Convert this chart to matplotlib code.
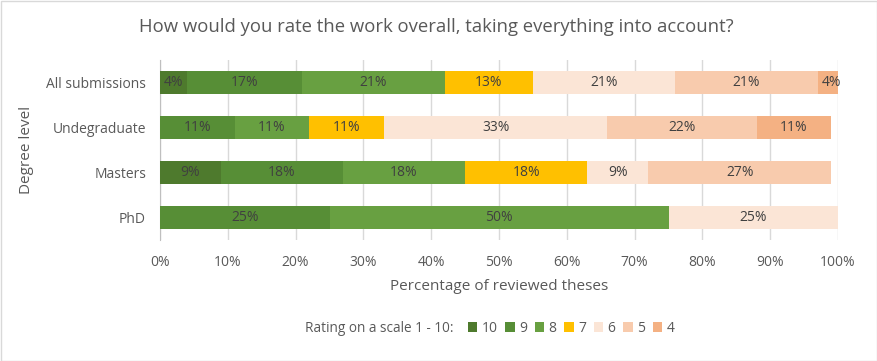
import matplotlib
matplotlib.use("Agg")
import matplotlib.pyplot as plt
from matplotlib.patches import Rectangle, Patch

plt.rcParams['font.family'] = ['Open Sans', 'DejaVu Sans']

categories = ["All submissions", "Undegraduate", "Masters", "PhD"]
ratings = ["10", "9", "8", "7", "6", "5", "4"]
values = {
    "10": [4, 0, 9, 0],
    "9": [17, 11, 18, 25],
    "8": [21, 11, 18, 50],
    "7": [13, 11, 18, 0],
    "6": [21, 33, 9, 25],
    "5": [21, 22, 27, 0],
    "4": [4, 11, 0, 0],
}
colors = {
    "10": "#4E7A2D",
    "9": "#578E36",
    "8": "#68A041",
    "7": "#FFC000",
    "6": "#FBE5D6",
    "5": "#F8CBAD",
    "4": "#F4B183",
}

fig = plt.figure(figsize=(8.77, 3.61), dpi=100)
ax = fig.add_axes([160/877, 1-240/361, (838-160)/877, (240-60)/361])

ypos = list(range(len(categories)))
left = [0.0]*len(categories)
for r in ratings:
    vals = values[r]
    ax.barh(ypos, vals, left=left, height=0.53, color=colors[r], zorder=3)
    for i, v in enumerate(vals):
        if v > 0:
            cx = left[i] + v/2
            if cx < 100:
                ax.text(cx, ypos[i], f"{v}%", ha='center', va='center',
                        fontsize=10, color='#404040', zorder=4, clip_on=False)
    left = [l+v for l, v in zip(left, vals)]

ax.set_xlim(0, 100)
ax.set_ylim(len(categories)-0.5, -0.5)
ax.set_xticks(range(0, 101, 10))
ax.set_xticklabels([f"{t}%" for t in range(0, 101, 10)], fontsize=10, color='#595959')
ax.set_yticks(ypos)
ax.set_yticklabels(categories, fontsize=10, color='#595959')
ax.tick_params(length=0, pad=10)
ax.tick_params(axis='x', pad=11)
ax.grid(axis='x', color='#D9D9D9', linewidth=1, zorder=0)
for s in ['top', 'right', 'bottom']:
    ax.spines[s].set_visible(False)
ax.spines['left'].set_color('#BFBFBF')

ax.set_xlabel("Percentage of reviewed theses", fontsize=11, color='#595959', labelpad=6)
fig.text(27/877, 1-150/361, "Degree level", rotation=90, ha='center', va='center',
         fontsize=11, color='#595959')
fig.text(436/877, 1-27/361, "How would you rate the work overall, taking everything into account?",
         ha='center', va='center', fontsize=13.3, color='#595959')

fig.text(305/877, 1-328/361, "Rating on a scale 1 - 10:", ha='left', va='center',
         fontsize=9.8, color='#595959')
handles = [Patch(facecolor=colors[r], label=r) for r in ratings]
leg = fig.legend(handles=handles, loc='center left', bbox_to_anchor=(462/877, 1-328/361),
                 ncol=7, frameon=False, fontsize=10, handlelength=0.7, handleheight=0.7,
                 handletextpad=0.3, columnspacing=0.55, borderpad=0, borderaxespad=0.4)
for t in leg.get_texts():
    t.set_color('#595959')

fig.patches.append(Rectangle((0.5/877, 0.5/361), 1-1/877, 1-1/361, transform=fig.transFigure,
                             fill=False, edgecolor='#D9D9D9', linewidth=1))

fig.savefig("out.png", dpi=100)
